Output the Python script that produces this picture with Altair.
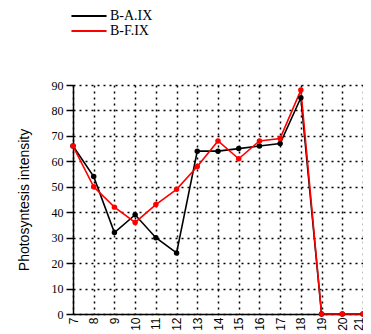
import altair as alt
import pandas as pd

hours = list(range(7, 22))
series = ["B-A.IX", "B-F.IX"]
ba = [66, 54, 32, 39, 30, 24, 64, 64, 65, 66, 67, 85, 0, 0, 0]
bf = [66, 50, 42, 36, 43, 49, 58, 68, 61, 68, 69, 88, 0, 0, 0]
y_ticks = list(range(0, 91, 10))

df = pd.DataFrame({
    "hour": hours * 2,
    "value": ba + bf,
    "series": [series[0]] * len(ba) + [series[1]] * len(bf),
})

x = alt.X("hour:Q",
          scale=alt.Scale(domain=[7, 21], nice=False, zero=False),
          axis=alt.Axis(values=hours, labelAngle=270, labelFont="Liberation Sans",
                        labelFontSize=12, labelColor="black", ticks=False,
                        labelOffset={"condition": {"test": "datum.value == 21", "value": -5},
                                     "value": 0},
                        grid=True, gridDash=[2, 4], gridColor="black", gridWidth=1.5,
                        gridOpacity=1, domainColor="black", domainWidth=1.5,
                        labelPadding=3, title=None))
y = alt.Y("value:Q",
          scale=alt.Scale(domain=[0, 90], nice=False),
          axis=alt.Axis(values=y_ticks, labelFont="Liberation Serif", labelFontSize=12,
                        labelColor="black", tickColor="black", tickSize=7, tickWidth=1.5,
                        grid=True, gridDash=[2, 4], gridColor="black", gridWidth=1.5,
                        gridOpacity=1, domainColor="black", domainWidth=1.5,
                        labelPadding=3, title="Photosyntesis intensity",
                        titleFont="Liberation Sans", titleFontSize=14,
                        titleFontWeight="normal", titleColor="black", titlePadding=20))

cscale = alt.Scale(domain=series, range=["black", "red"])

lines = alt.Chart(df).mark_line(strokeWidth=1.6).encode(
    x=x, y=y,
    color=alt.Color("series:N", scale=cscale,
                    legend=alt.Legend(orient="none", legendX=9, legendY=-76, title=None,
                                      symbolType="M-3.9,0H3.9", symbolSize=81,
                                      symbolStrokeWidth=2, labelFont="Liberation Serif",
                                      labelFontSize=14, labelColor="black", labelOffset=14,
                                      rowPadding=1, padding=0)),
)
points = alt.Chart(df).mark_point(filled=True, size=30, opacity=1).encode(
    x=x, y=y,
    color=alt.Color("series:N", scale=cscale, legend=None),
)

chart = alt.layer(lines, points).properties(
    width=290, height=229,
    autosize=alt.AutoSizeParams(type="none"),
    padding={"left": 65, "top": 77, "right": 0, "bottom": 20},
    background="white",
).configure_view(stroke=None)

chart.save("out.html", embed_options={"renderer": "svg", "actions": False})
